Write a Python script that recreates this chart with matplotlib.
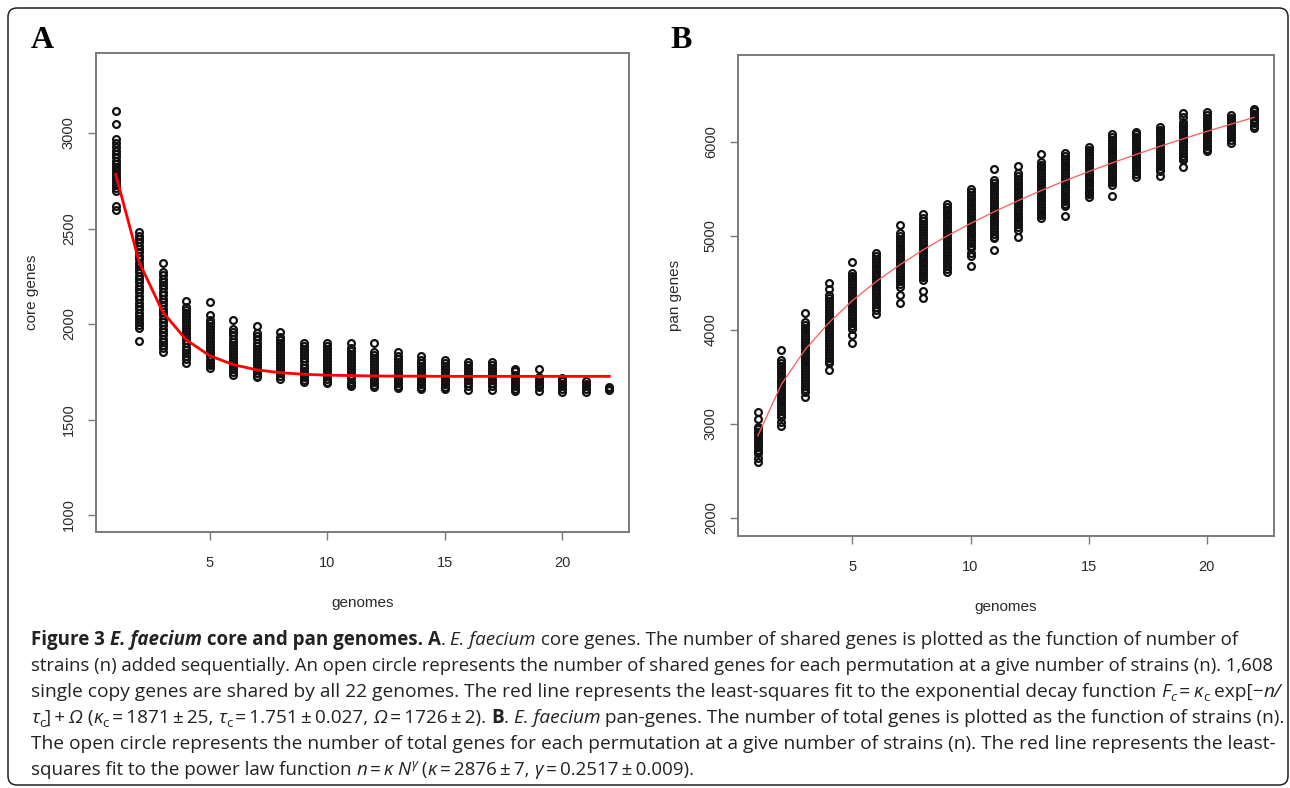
import matplotlib
matplotlib.use("Agg")
import matplotlib.pyplot as plt
from matplotlib.patches import FancyBboxPatch
from matplotlib.font_manager import FontProperties, findfont
from matplotlib.transforms import IdentityTransform

W, H = 1290, 788

# ---- data ----------------------------------------------------------------
genomes = list(range(1, 23))

# panel A: core genes per permutation, one list per number of genomes
core_genes = [
    [3115, 3045, 2968, 2948, 2925, 2905, 2888, 2872, 2855, 2838, 2822, 2805,
     2790, 2776, 2760, 2745, 2728, 2712, 2695, 2618, 2596],
    [2483, 2462, 2445, 2428, 2410, 2392, 2376, 2358, 2340, 2322, 2305, 2288,
     2270, 2252, 2236, 2218, 2200, 2184, 2166, 2148, 2130, 2112, 2095, 2078,
     2060, 2043, 2026, 2010, 1993, 1978, 1913],
    [2321, 2274, 2255, 2238, 2220, 2203, 2186, 2168, 2150, 2133, 2116, 2098,
     2080, 2063, 2046, 2028, 2010, 1993, 1976, 1958, 1940, 1923, 1906, 1889,
     1872, 1856],
    [2122, 2091, 2075, 2058, 2042, 2026, 2010, 1994, 1978, 1962, 1946, 1930,
     1914, 1898, 1882, 1866, 1850, 1834, 1818, 1794],
    [2117, 2047, 2022, 2006, 1990, 1974, 1958, 1942, 1926, 1910, 1894, 1878,
     1862, 1846, 1830, 1814, 1798, 1783, 1768],
    [2021, 1972, 1956, 1940, 1924, 1908, 1892, 1876, 1860, 1844, 1828, 1812,
     1796, 1780, 1764, 1748, 1733],
    [1990, 1951, 1935, 1919, 1903, 1887, 1871, 1855, 1839, 1823, 1807, 1791,
     1775, 1759, 1743, 1728, 1721],
    [1960, 1934, 1918, 1902, 1886, 1870, 1854, 1838, 1822, 1806, 1790, 1774,
     1758, 1742, 1726, 1712],
    [1899, 1884, 1868, 1852, 1836, 1820, 1804, 1788, 1772, 1756, 1740, 1724,
     1708, 1695],
    [1903, 1886, 1870, 1854, 1838, 1822, 1806, 1790, 1774, 1758, 1742, 1726,
     1710, 1698, 1690],
    [1899, 1875, 1859, 1843, 1827, 1811, 1795, 1779, 1763, 1747, 1731, 1715,
     1699, 1685, 1675],
    [1902, 1855, 1838, 1822, 1806, 1790, 1774, 1758, 1742, 1726, 1710, 1694,
     1680, 1668],
    [1855, 1835, 1819, 1803, 1787, 1771, 1755, 1739, 1723, 1707, 1691, 1676,
     1663],
    [1832, 1812, 1796, 1780, 1764, 1748, 1732, 1716, 1700, 1684, 1670, 1658],
    [1813, 1798, 1782, 1766, 1750, 1734, 1718, 1702, 1686, 1671, 1658],
    [1802, 1785, 1769, 1753, 1737, 1721, 1705, 1689, 1673, 1654],
    [1802, 1786, 1770, 1754, 1738, 1722, 1706, 1690, 1674, 1654],
    [1762, 1752, 1733, 1718, 1703, 1688, 1673, 1660, 1651],
    [1763, 1724, 1710, 1696, 1682, 1668, 1651],
    [1716, 1702, 1688, 1674, 1660, 1646],
    [1702, 1688, 1674, 1660, 1646],
    [1668, 1662, 1657],
]
core_fit = [2783, 2323, 2063, 1917, 1834, 1787, 1760, 1745, 1737, 1732, 1730,
            1728, 1727, 1727, 1726, 1726, 1726, 1726, 1726, 1726, 1726, 1726]

# panel B: pan genes per permutation
pan_genes = [
    [3131, 3050, 2971, 2945, 2918, 2890, 2862, 2835, 2808, 2780, 2752, 2725,
     2700, 2688, 2640, 2593],
    [3787, 3681, 3650, 3620, 3590, 3560, 3530, 3500, 3470, 3440, 3410, 3380,
     3350, 3320, 3290, 3260, 3230, 3200, 3170, 3140, 3110, 3078, 3025, 2979],
    [4177, 4089, 4058, 4027, 3996, 3965, 3934, 3903, 3872, 3841, 3810, 3779,
     3748, 3717, 3686, 3655, 3624, 3593, 3562, 3531, 3500, 3469, 3438, 3407,
     3376, 3344, 3291],
    [4503, 4433, 4372, 4340, 4308, 4276, 4244, 4212, 4180, 4148, 4116, 4084,
     4052, 4020, 3988, 3956, 3924, 3892, 3860, 3828, 3796, 3764, 3732, 3700,
     3672, 3646, 3574],
    [4720, 4610, 4580, 4550, 4520, 4490, 4460, 4430, 4400, 4370, 4340, 4310,
     4280, 4250, 4220, 4190, 4160, 4130, 4100, 4070, 4040, 4010, 3947, 3865],
    [4816, 4785, 4755, 4725, 4695, 4665, 4635, 4605, 4575, 4545, 4515, 4485,
     4455, 4425, 4395, 4365, 4335, 4305, 4275, 4245, 4213, 4167],
    [5117, 5028, 4998, 4968, 4938, 4908, 4878, 4848, 4818, 4788, 4758, 4728,
     4698, 4668, 4638, 4608, 4578, 4548, 4518, 4490, 4461, 4372, 4291],
    [5234, 5188, 5158, 5128, 5098, 5068, 5038, 5008, 4978, 4948, 4918, 4888,
     4858, 4828, 4798, 4768, 4738, 4708, 4678, 4648, 4618, 4588, 4560, 4532,
     4415, 4344],
    [5340, 5310, 5280, 5250, 5220, 5190, 5160, 5130, 5100, 5070, 5040, 5010,
     4980, 4950, 4920, 4890, 4860, 4830, 4800, 4770, 4740, 4710, 4680, 4650,
     4620],
    [5497, 5467, 5437, 5407, 5377, 5347, 5317, 5287, 5257, 5227, 5197, 5167,
     5137, 5107, 5077, 5047, 5017, 4987, 4957, 4927, 4897, 4869, 4816, 4787,
     4681],
    [5710, 5596, 5566, 5536, 5506, 5476, 5446, 5416, 5386, 5356, 5326, 5296,
     5266, 5236, 5206, 5176, 5146, 5116, 5086, 5056, 5026, 4995, 4975, 4851],
    [5748, 5667, 5637, 5607, 5577, 5547, 5517, 5487, 5457, 5427, 5397, 5367,
     5337, 5307, 5277, 5247, 5217, 5187, 5157, 5127, 5097, 5064, 4995],
    [5875, 5790, 5760, 5730, 5700, 5670, 5640, 5610, 5580, 5550, 5520, 5490,
     5460, 5430, 5400, 5370, 5340, 5310, 5280, 5250, 5220, 5188],
    [5879, 5850, 5820, 5790, 5760, 5730, 5700, 5670, 5640, 5610, 5580, 5550,
     5520, 5490, 5460, 5430, 5400, 5370, 5340, 5319, 5210],
    [5950, 5920, 5890, 5860, 5830, 5800, 5770, 5740, 5710, 5680, 5650, 5620,
     5590, 5560, 5530, 5500, 5470, 5445, 5418],
    [6084, 6050, 6020, 5990, 5960, 5930, 5900, 5870, 5840, 5810, 5780, 5750,
     5720, 5690, 5660, 5630, 5600, 5570, 5543, 5426],
    [6112, 6082, 6052, 6022, 5992, 5962, 5932, 5902, 5872, 5842, 5812, 5782,
     5752, 5722, 5692, 5662, 5631],
    [6163, 6133, 6103, 6073, 6043, 6013, 5983, 5953, 5923, 5893, 5863, 5833,
     5803, 5773, 5743, 5718, 5695, 5638],
    [6305, 6269, 6216, 6186, 6156, 6126, 6096, 6066, 6036, 6006, 5976, 5946,
     5916, 5886, 5856, 5830, 5809, 5738],
    [6317, 6287, 6257, 6227, 6197, 6167, 6137, 6107, 6077, 6047, 6017, 5987,
     5957, 5927, 5900],
    [6290, 6260, 6230, 6200, 6170, 6140, 6110, 6080, 6050, 6020, 5995],
    [6350, 6325, 6300, 6275, 6250, 6225, 6200, 6175, 6152],
]
pan_fit = [2876, 3424, 3792, 4077, 4313, 4515, 4693, 4854, 5000, 5134, 5259,
           5375, 5485, 5588, 5686, 5779, 5868, 5953, 6035, 6113, 6189, 6262]

core_yticks = [1000, 1500, 2000, 2500, 3000]
pan_yticks = [2000, 3000, 4000, 5000, 6000]
x_ticks = [5, 10, 15, 20]

# caption, one list of (text, style) runs per printed line
TS = "\u2009"
caption_lines = [
    [("Figure 3 ", "b"), ("E. faecium", "bi"), (" core and pan genomes. A", "b"),
     (". ", "n"), ("E. faecium", "i"),
     (" core genes. The number of shared genes is plotted as the function of number of", "n")],
    [("strains (n) added sequentially. An open circle represents the number of shared "
      "genes for each permutation at a give number of strains (n). 1,608", "n")],
    [("single copy genes are shared by all 22 genomes. The red line represents the "
      "least-squares fit to the exponential decay function ", "n"),
     ("F", "i"), ("c", "subi"), (TS + "=" + TS, "n"), ("κ", "i"), ("c", "sub"),
     (" exp[−", "n"), ("n/", "i")],
    [("τ", "i"), ("c", "sub"), ("]" + TS + "+" + TS, "n"), ("Ω", "i"), (" (", "n"),
     ("κ", "i"), ("c", "sub"), (TS + "=" + TS + "1871" + TS + "±" + TS + "25, ", "n"),
     ("τ", "i"), ("c", "sub"),
     (TS + "=" + TS + "1.751" + TS + "±" + TS + "0.027, ", "n"), ("Ω", "i"),
     (TS + "=" + TS + "1726" + TS + "±" + TS + "2). ", "n"), ("B", "b"), (". ", "n"),
     ("E. faecium", "i"),
     (" pan-genes. The number of total genes is plotted as the function of strains (n).", "n")],
    [("The open circle represents the number of total genes for each permutation at a "
      "give number of strains (n). The red line represents the least-", "n")],
    [("squares fit to the power law function ", "n"), ("n", "i"),
     (TS + "=" + TS, "n"), ("κ N", "i"), ("γ", "supi"), (" (", "n"), ("κ", "i"),
     (TS + "=" + TS + "2876" + TS + "±" + TS + "7, ", "n"), ("γ", "i"),
     (TS + "=" + TS + "0.2517" + TS + "±" + TS + "0.009).", "n")],
]
# right end of each caption line in the reference (pixels)
caption_ends = [1238, 1270, 1280, 1284, 1271, 693]

# ---- figure ---------------------------------------------------------------
plt.rcParams["font.family"] = ["Liberation Sans", "DejaVu Sans"]
fig = plt.figure(figsize=(W / 100, H / 100), dpi=100)


def px_axes(left, top, right, bottom):
    return fig.add_axes([left / W, 1 - bottom / H, (right - left) / W,
                         (bottom - top) / H])


def style_axes(ax, yticks, ylim, ylabel, ylab_x):
    ax.set_xlim(0.16, 22.84)
    ax.set_ylim(*ylim)
    ax.set_xticks(x_ticks)
    ax.set_yticks(yticks)
    for side in ["top", "right", "left", "bottom"]:
        ax.spines[side].set_color("#7a7a7a")
        ax.spines[side].set_linewidth(1.4)
    ax.tick_params(direction="out", length=5.5, width=1.0, color="#7a7a7a",
                   labelsize=10.5, labelcolor="#2a2a2a")
    ax.tick_params(axis="x", pad=12)
    ax.tick_params(axis="y", pad=9, labelrotation=90)
    for lab in ax.get_yticklabels():
        lab.set_va("center")
    ax.set_xlabel("genomes", fontsize=11, color="#2a2a2a", va="center")
    ax.xaxis.set_label_coords(0.5, -0.148)
    ax.set_ylabel(ylabel, fontsize=11, color="#2a2a2a", va="center")
    ax.yaxis.set_label_coords(ylab_x, 0.5)


# open circles, edges thick enough that stacked permutations read as a bar
point_style = dict(linestyle="none", marker="o", markersize=4.9,
                   markerfacecolor="none", markeredgecolor="#111111",
                   markeredgewidth=1.6)

# panel A
ax_a = px_axes(96, 53, 629, 532)
for n, vals in zip(genomes, core_genes):
    ax_a.plot([n] * len(vals), vals, **point_style)
ax_a.plot(genomes, core_fit, color="#ff0000", linewidth=2.0, zorder=5)
style_axes(ax_a, core_yticks, (911, 3419), "core genes", -0.12)

# panel B
ax_b = px_axes(738, 55, 1274, 536)
for n, vals in zip(genomes, pan_genes):
    ax_b.plot([n] * len(vals), vals, **point_style)
ax_b.plot(genomes, pan_fit, color="#ff5a5a", linewidth=0.9, zorder=5)
style_axes(ax_b, pan_yticks, (1809, 6926), "pan genes", -0.118)

# panel letters
fig.text(31 / W, 1 - 48 / H, "A", family="Liberation Serif", weight="bold",
         fontsize=23, ha="left", va="baseline")
fig.text(670 / W, 1 - 48 / H, "B", family="Liberation Serif", weight="bold",
         fontsize=23, ha="left", va="baseline")

# rounded frame around the whole figure
frame = FancyBboxPatch((8, 3), 1280, 777, boxstyle="round,pad=0,rounding_size=9",
                       transform=IdentityTransform(), facecolor="none",
                       edgecolor="#222222", linewidth=1.1)
fig.add_artist(frame)


# caption font: first family that really has bold and italic faces
def has_faces(name):
    try:
        fb = findfont(FontProperties(family=name, weight="bold"),
                      fallback_to_default=False)
        fi = findfont(FontProperties(family=name, style="italic"),
                      fallback_to_default=False)
    except Exception:
        return False
    return "bold" in fb.lower() and "italic" in fi.lower()


cap_name = "Liberation Sans"
for name in ["Open Sans", "Noto Sans", "Lato"]:
    if has_faces(name):
        cap_name = name
        break
cap_family = [cap_name, "DejaVu Sans"]

# caption, drawn run by run so bold / italic / subscripts can mix
renderer = fig.canvas.get_renderer()


def font_for(style, size):
    weight = "bold" if style in ("b", "bi") else "normal"
    slant = "italic" if style in ("i", "bi", "subi", "supi") else "normal"
    if style.startswith("sub") or style.startswith("sup"):
        size = size * 0.7
    return FontProperties(family=cap_family, weight=weight, style=slant, size=size)


def run_width(text, fp):
    w1 = renderer.get_text_width_height_descent(text + "|", fp, ismath=False)[0]
    w0 = renderer.get_text_width_height_descent("|", fp, ismath=False)[0]
    return w1 - w0


def line_width(runs, size):
    return sum(run_width(t, font_for(s, size)) for t, s in runs)


fits = [10.0 * (end - 31) / line_width(runs, 10.0)
        for runs, end in zip(caption_lines, caption_ends)]
for i, runs in enumerate(caption_lines):
    size = fits[i]
    x = 31
    base = 645 + i * 26
    for text, style in runs:
        fp = font_for(style, size)
        shift = 0
        if style.startswith("sub"):
            shift = -0.22 * size * 100 / 72
        elif style.startswith("sup"):
            shift = 0.4 * size * 100 / 72
        fig.text(x, H - base + shift, text, fontproperties=fp, color="#222222",
                 ha="left", va="baseline", transform=IdentityTransform())
        x += run_width(text, fp)

fig.savefig("out.png", dpi=100)
